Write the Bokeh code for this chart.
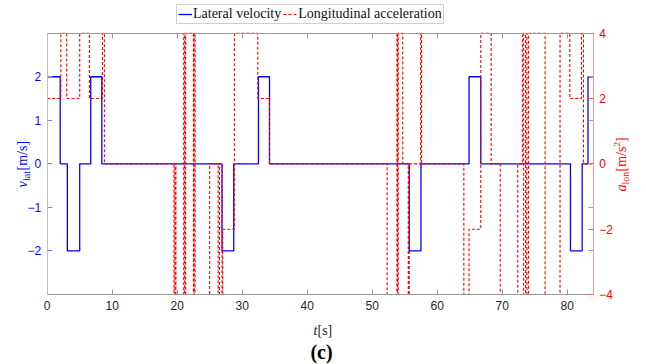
from math import pi
from bokeh.plotting import figure
from bokeh.models import Range1d, LinearAxis, FixedTicker, Legend, LegendItem, Label
from bokeh.embed import file_html
from bokeh.resources import INLINE

# ---------------- data ----------------
# lateral velocity [m/s], piecewise constant, value holds from each time until the next
t_lat = [0, 2.0, 3.1, 5.0, 6.7, 8.4, 26.9, 28.7, 32.5, 34.2, 55.7, 57.5, 64.9, 66.7, 80.5, 82.3, 83.2, 84.0]
v_lat = [2, 0, -2, 0, 2, 0, -2, 0, 2, 0, -2, 0, 2, 0, -2, 0, 2, 2]

# longitudinal acceleration [m/s^2], piecewise constant
t_acc = [0, 2.1, 3.0, 5.0, 6.5, 8.5, 8.8,
         19.5, 19.65, 19.8, 21.0, 21.15, 21.3, 22.5, 22.6, 22.75, 25.0,
         26.3, 26.5, 26.9, 27.0, 28.8, 32.4, 34.2,
         52.3, 53.8, 53.9, 54.0, 54.7, 55.55, 55.7, 57.45, 57.6,
         64.1, 64.9, 66.7, 68.3, 69.7, 72.4,
         73.1, 73.3, 73.6, 73.8, 74.05,
         76.6, 78.9, 80.4, 82.2, 82.5, 84.0]
a_lon = [2, 4, 2, 4, 2, 4, 0,
         -4, 0, -4, 4, -4, 4, -4, 4, -4, 0,
         -4, 0, -4, -2, 4, 2, 0,
         -4, 4, -4, 4, 0, -4, 0, 4, 0,
         -4, -2, 4, 0, -4, 0,
         4, -4, 4, -4, 4,
         -4, 4, 2, 4, 0, 0]

x_lim = [0, 84]
v_lim = [-3, 3]
a_lim = [-4, 4]
x_ticks = [0, 10, 20, 30, 40, 50, 60, 70, 80]
v_ticks = [-2, -1, 0, 1, 2]
a_ticks = [-4, -2, 0, 2, 4]

# ---------------- layout (pixels of the plot box inside the canvas) ----------------
W, H = 646, 364
PL, PR, PT, PB = 46.7, 592.7, 32.7, 294.0
sx = (PR - PL) / (x_lim[1] - x_lim[0])
sv = (PB - PT) / (v_lim[1] - v_lim[0])
sa = (PB - PT) / (a_lim[1] - a_lim[0])

p = figure(width=W, height=H, output_backend="svg", toolbar_location=None,
           x_range=Range1d(x_lim[0] - PL / sx, x_lim[1] + (W - PR) / sx),
           y_range=Range1d(v_lim[0] - (H - PB) / sv, v_lim[1] + PT / sv),
           min_border=0, min_border_left=0, min_border_right=0,
           min_border_top=0, min_border_bottom=0,
           x_axis_location=None, y_axis_location=None)
p.extra_y_ranges = {"acc": Range1d(a_lim[0] - (H - PB) / sa, a_lim[1] + PT / sa)}
p.xgrid.visible = False
p.ygrid.visible = False
p.outline_line_color = None
p.background_fill_color = "white"
p.border_fill_color = "white"

TICK_FONT = "Liberation Sans"
SERIF = "Liberation Serif"


def minus(v):
    return str(v).replace("-", "\u2212")


def make_axis(ticks, at, bounds, color, line_color, tick_color, labels=True, **kw):
    ax = LinearAxis(fixed_location=at, bounds=tuple(bounds), **kw)
    ax.ticker = FixedTicker(ticks=ticks)
    ax.major_tick_in = 5
    ax.major_tick_out = 0
    ax.minor_tick_line_color = None
    ax.axis_line_color = line_color
    ax.major_tick_line_color = tick_color
    ax.major_label_text_font = TICK_FONT
    ax.major_label_text_font_size = "12px"
    ax.major_label_standoff = 6
    if labels:
        ax.major_label_text_color = color
        ax.major_label_overrides = {float(t): minus(t) for t in ticks}
    else:
        ax.major_label_text_color = None
    return ax


p.add_layout(make_axis(x_ticks, v_lim[0], x_lim, "#262626", "#9a9a9a", "#9a9a9a"), "below")
p.add_layout(make_axis(x_ticks, v_lim[1], x_lim, "#262626", "#9a9a9a", "#9a9a9a", labels=False), "above")
p.add_layout(make_axis(v_ticks, x_lim[0], v_lim, "#0000FF", "#b8b8ff", "#8080ff"), "left")
p.add_layout(make_axis(v_ticks, x_lim[1], v_lim, "#0000FF", "#b8b8ff", "#9090ff", labels=False), "right")
p.add_layout(make_axis(a_ticks, x_lim[1], a_lim, "#FF0000", "#ff9a9a", "#ff6060",
                       y_range_name="acc"), "right")

# ---------------- series ----------------
r_v = p.step(t_lat, v_lat, mode="after", line_color="#0000FF", line_width=1.3)
r_a = p.step(t_acc, a_lon, mode="after", line_color="#FF0000", line_width=1.1,
             line_dash="3 2", y_range_name="acc")

legend = Legend(items=[LegendItem(label="Lateral velocity", renderers=[r_v]),
                       LegendItem(label="Longitudinal acceleration", renderers=[r_a])],
                orientation="horizontal", location=(176, H - 24),
                label_text_font=SERIF, label_text_font_size="14px", label_text_color="#111111",
                glyph_width=14, glyph_height=12, label_standoff=1, spacing=2,
                padding=1, margin=0, label_height=14,
                border_line_color="#a0a0a0", border_line_width=1,
                background_fill_color="white", background_fill_alpha=1.0)
p.add_layout(legend, "center")


# ---------------- axis titles ----------------
def px2x(X):
    return x_lim[0] + (X - PL) / sx


def px2y(Y):
    return v_lim[0] + (PB - Y) / sv


def lab(text, X, Y, size, color, style="normal", angle=0.0, align="left"):
    p.add_layout(Label(x=px2x(X), y=px2y(Y), text=text, text_font=SERIF,
                       text_font_size=size, text_color=color, text_font_style=style,
                       angle=angle, text_align=align, text_baseline="alphabetic"))


# left: v_lat[m/s]
lab("v", 22, 187, "14px", "#0000FF", "italic", pi / 2)
lab("lat", 26, 180.5, "10px", "#0000FF", "normal", pi / 2)
lab("[m/s]", 22, 170, "14px", "#0000FF", "normal", pi / 2)

# right: a_lon[m/s^2]
lab("a", 621, 191, "14px", "#FF0000", "italic", pi / 2)
lab("lon", 625, 184, "10px", "#FF0000", "normal", pi / 2)
lab("[m/s", 621, 171, "14px", "#FF0000", "normal", pi / 2)
lab("2", 616, 146, "9px", "#FF0000", "normal", pi / 2)
lab("]", 621, 141.5, "14px", "#FF0000", "normal", pi / 2)

# bottom: t[s] and (c)
lab("t", 317, 330, "14px", "#262626", "italic", 0, "right")
lab("[s]", 317, 330, "14px", "#262626", "normal", 0, "left")
lab("(c)", 321, 351, "20px", "#000000", "bold", 0, "center")

open("out.html", "w").write(file_html(p, INLINE))
